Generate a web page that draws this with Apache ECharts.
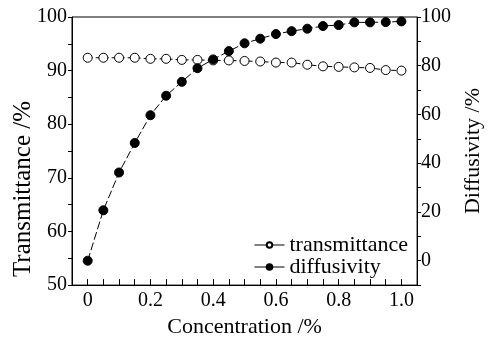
<!DOCTYPE html>
<html>
<head>
<meta charset="utf-8">
<script src="https://cdn.jsdelivr.net/npm/echarts@6/dist/echarts.min.js"></script>
<style>
html,body{margin:0;padding:0;background:#fff;}
#chart{width:492px;height:343px;}
</style>
</head>
<body>
<div id="chart"></div>
<script>
const concentration = [0, 0.05, 0.1, 0.15, 0.2, 0.25, 0.3, 0.35, 0.4, 0.45, 0.5, 0.55, 0.6, 0.65, 0.7, 0.75, 0.8, 0.85, 0.9, 0.95, 1.0];
const transmittance = [92.4, 92.4, 92.4, 92.4, 92.2, 92.2, 92.0, 92.0, 91.9, 91.9, 91.8, 91.7, 91.5, 91.5, 91.1, 90.8, 90.7, 90.6, 90.5, 90.1, 90.0];
const diffusivity = [0, 20.7, 36.2, 48.3, 59.7, 67.7, 73.4, 79.0, 82.6, 86.0, 89.2, 91.1, 93.0, 94.2, 95.2, 96.3, 96.7, 97.8, 97.8, 97.9, 98.2];
const seriesNames = ['transmittance', 'diffusivity'];
const xTitle = 'Concentration /%';
const yLeftTitle = 'Transmittance /%';
const yRightTitle = 'Diffusivity /%';

const FONT = '"Liberation Serif", "Times New Roman", serif';
const chart = echarts.init(document.getElementById('chart'), null, {renderer: 'canvas'});
const pairs = (ys) => concentration.map((x, i) => [x, ys[i]]);

chart.setOption({
  backgroundColor: '#ffffff',
  animation: false,
  grid: {left: 72, right: 68, top: 17, bottom: 48, show: true, borderColor: '#000', borderWidth: 1, backgroundColor: 'transparent'},
  legend: {
    left: 249, top: 229, orient: 'vertical', itemWidth: 30, itemHeight: 7, itemGap: 0,
    lineStyle: {type: 'solid', width: 1},
    textStyle: {fontFamily: FONT, fontSize: 22, color: '#000'},
    data: seriesNames
  },
  xAxis: {
    type: 'value', min: -0.05, max: 1.05, interval: 0.05,
    name: xTitle, nameLocation: 'middle', nameGap: 30,
    nameTextStyle: {fontFamily: FONT, fontSize: 22, color: '#000'},
    axisLine: {onZero: false, lineStyle: {color: '#000', width: 1}},
    axisTick: {inside: true, length: 6, lineStyle: {color: '#000'}},
    splitLine: {show: false},
    axisLabel: {
      fontFamily: FONT, fontSize: 20, color: '#000', margin: 6,
      formatter: function (v) {
        const r = Math.round(v * 100);
        if (r < 0 || r % 20 !== 0) return '';
        if (r === 0) return '0';
        return (r / 100).toFixed(1);
      }
    }
  },
  yAxis: [{
    type: 'value', min: 50, max: 100, interval: 5, position: 'left',
    axisLine: {show: true, onZero: false, lineStyle: {color: '#000', width: 1}},
    axisTick: {show: true, inside: false, length: 4, lineStyle: {color: '#000'}},
    splitLine: {show: false},
    axisLabel: {
      fontFamily: FONT, fontSize: 20, color: '#000', margin: 5,
      formatter: function (v) { const r = Math.round(v); return r % 10 === 0 ? String(r) : ''; }
    }
  }, {
    type: 'value', min: -10, max: 100, interval: 10, position: 'right',
    axisLine: {show: true, onZero: false, lineStyle: {color: '#000', width: 1}},
    axisTick: {show: true, inside: false, length: 4, lineStyle: {color: '#000'}},
    splitLine: {show: false},
    axisLabel: {
      fontFamily: FONT, fontSize: 20, color: '#000', margin: 4,
      formatter: function (v) { const r = Math.round(v); return (r >= 0 && r % 20 === 0) ? String(r) : ''; }
    },
    name: yRightTitle, nameLocation: 'middle', nameGap: 38, nameRotate: 90,
    nameTextStyle: {fontFamily: FONT, fontSize: 22, color: '#000'}
  }],
  graphic: [{
    type: 'text', x: 23, y: 189, rotation: Math.PI / 2,
    style: {text: yLeftTitle, font: '25px ' + FONT, fill: '#000', align: 'center', verticalAlign: 'middle'}
  }],
  series: [{
    name: seriesNames[0], type: 'line', yAxisIndex: 0, data: pairs(transmittance),
    symbol: 'circle', symbolSize: 9,
    itemStyle: {color: '#fff', borderColor: '#000', borderWidth: 1},
    lineStyle: {color: '#000', width: 1, type: [5, 3]},
    z: 2
  }, {
    name: seriesNames[1], type: 'line', yAxisIndex: 1, data: pairs(diffusivity),
    symbol: 'circle', symbolSize: 9,
    itemStyle: {color: '#000', borderColor: '#000', borderWidth: 1},
    lineStyle: {color: '#000', width: 1, type: [8, 3]},
    z: 3
  }]
});
</script>
</body>
</html>
